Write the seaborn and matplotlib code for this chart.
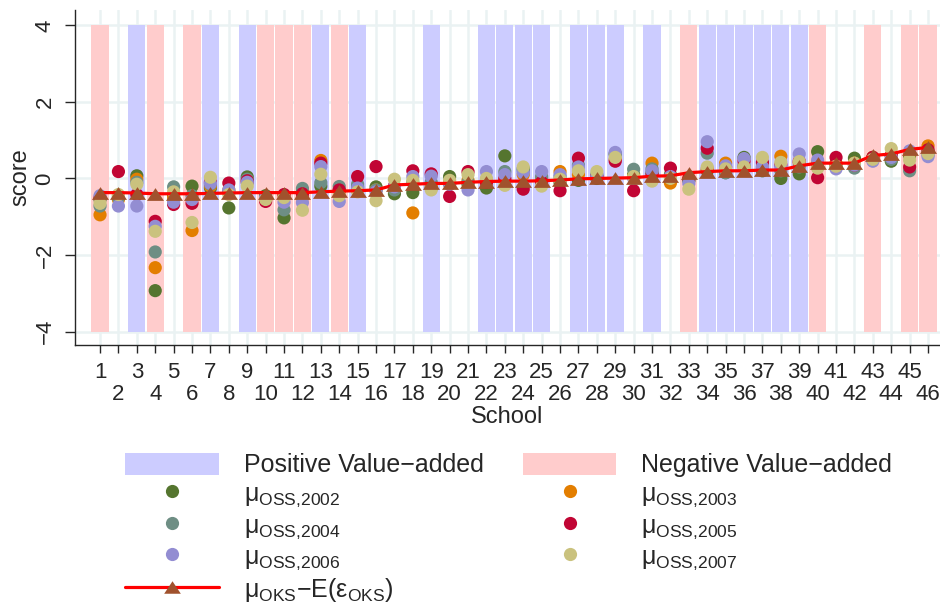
import numpy as np
import pandas as pd
import matplotlib
matplotlib.use("Agg")
import matplotlib.pyplot as plt
import seaborn as sns
from matplotlib.patches import Patch
from matplotlib.lines import Line2D

# ---------------- data ----------------
schools = list(range(1, 47))
va_band = ['neg', '', 'pos', 'neg', '', 'neg', 'pos', '', 'pos', 'neg',
           'neg', 'neg', 'pos', 'neg', 'pos', '', '', '', 'pos', '',
           '', 'pos', 'pos', 'pos', 'pos', '', 'pos', 'pos', 'pos', '',
           'pos', '', 'neg', 'pos', 'pos', 'pos', 'pos', 'pos', 'pos', 'neg',
           '', '', 'neg', '', 'neg', 'neg']
band_low, band_high = -4, 4

y2002 = [-0.55, -0.45, 0.07, -2.93, -0.45, -0.2, -0.25, -0.77, 0.04, -0.45,
         -1.03, -0.35, -0.2, -0.3, -0.22, -0.22, -0.4, -0.37, -0.25, 0.05,
         -0.15, -0.25, 0.59, 0.25, -0.05, -0.1, -0.05, 0.0, 0.65, 0.1,
         0.15, 0.1, -0.05, 0.2, 0.15, 0.55, 0.2, 0.0, 0.12, 0.7,
         0.35, 0.53, 0.55, 0.45, 0.6, 0.7]
y2003 = [-0.95, -0.55, -0.02, -2.33, -0.5, -1.36, -0.2, -0.3, -0.1, -0.55,
         -0.45, -0.5, 0.47, -0.35, -0.3, -0.3, -0.28, -0.9, -0.2, -0.1,
         -0.05, -0.1, -0.05, 0.1, 0.0, 0.18, 0.1, 0.05, 0.5, 0.05,
         0.4, -0.12, 0.0, 0.25, 0.4, 0.3, 0.3, 0.58, 0.4, 0.4,
         0.4, 0.4, 0.55, 0.6, 0.65, 0.85]
y2004 = [-0.72, -0.5, -0.1, -1.92, -0.22, -0.45, -0.15, -0.35, -0.02, -0.5,
         -0.82, -0.26, -0.11, -0.21, -0.15, -0.3, -0.3, -0.1, -0.1, -0.15,
         -0.1, -0.05, 0.18, 0.2, 0.05, 0.05, 0.35, 0.1, 0.62, 0.24,
         0.25, 0.05, -0.05, 0.66, 0.15, 0.35, 0.25, 0.2, 0.3, 0.3,
         0.3, 0.27, 0.5, 0.5, 0.2, 0.62]
y2005 = [-0.5, 0.18, -0.42, -1.12, -0.68, -0.65, -0.1, -0.12, -0.06, -0.6,
         -0.42, -0.4, 0.4, -0.3, 0.05, 0.31, -0.2, 0.2, 0.12, -0.47,
         0.18, -0.1, 0.0, -0.28, -0.1, -0.32, 0.53, 0.05, 0.45, -0.32,
         0.1, 0.27, 0.0, 0.79, 0.3, 0.45, 0.42, 0.35, 0.45, 0.02,
         0.55, 0.35, 0.55, 0.6, 0.3, 0.75]
y2006 = [-0.45, -0.72, -0.72, -1.25, -0.62, -0.55, -0.13, -0.3, -0.1, -0.5,
         -0.62, -0.63, 0.31, -0.6, -0.25, -0.35, -0.22, 0.05, 0.06, -0.15,
         -0.3, 0.18, 0.1, 0.15, 0.18, 0.1, 0.3, 0.05, 0.68, 0.0,
         0.2, 0.05, -0.13, 0.96, 0.33, 0.52, 0.3, 0.3, 0.64, 0.48,
         0.25, 0.35, 0.45, 0.55, 0.72, 0.57]
y2007 = [-0.65, -0.42, -0.15, -1.38, -0.35, -1.15, 0.03, -0.42, -0.2, -0.55,
         -0.5, -0.83, 0.11, -0.45, -0.35, -0.58, -0.02, -0.05, -0.3, -0.05,
         0.1, 0.0, -0.18, 0.3, -0.2, -0.02, 0.2, 0.18, 0.55, 0.05,
         -0.07, 0.0, -0.28, 0.3, 0.25, 0.3, 0.55, 0.42, 0.44, 0.27,
         0.32, 0.4, 0.5, 0.78, 0.48, 0.65]
oks_line = [-0.37, -0.37, -0.38, -0.40, -0.40, -0.40, -0.39, -0.38, -0.37, -0.37,
            -0.37, -0.37, -0.35, -0.33, -0.32, -0.30, -0.17, -0.15, -0.13, -0.13,
            -0.10, -0.08, -0.07, -0.07, -0.06, -0.04, -0.01, 0.0, 0.01, 0.02,
            0.06, 0.07, 0.15, 0.18, 0.2, 0.2, 0.22, 0.22, 0.33, 0.40,
            0.40, 0.40, 0.6, 0.64, 0.76, 0.81]
years = ['2002', '2003', '2004', '2005', '2006', '2007']
yticks = [-4, -2, 0, 2, 4]

# ---------------- style ----------------
sns.set_style("ticks")
plt.rcParams['font.family'] = ['Liberation Sans', 'DejaVu Sans']
plt.rcParams['mathtext.default'] = 'regular'

col_year = {'2002': '#55752f', '2003': '#e37e00', '2004': '#6e8e84',
            '2005': '#c10534', '2006': '#938dd2', '2007': '#cac27e'}
blue_band = '#ccccff'
pink_band = '#ffcccc'
sienna = '#a0522d'
grid_col = '#eaf2f3'

fig = plt.figure(figsize=(9.4, 6.05), dpi=100)
ax = fig.add_axes([75 / 940, 1 - 345 / 605, 865 / 940, 335 / 605])

# bands
pos_x = [s for s, b in zip(schools, va_band) if b == 'pos']
neg_x = [s for s, b in zip(schools, va_band) if b == 'neg']
ax.bar(pos_x, band_high - band_low, bottom=band_low, width=0.93,
       color=blue_band, linewidth=0, zorder=1)
ax.bar(neg_x, band_high - band_low, bottom=band_low, width=0.93,
       color=pink_band, linewidth=0, zorder=1)

# points
df = pd.DataFrame({
    'school': schools * 6,
    'score': y2002 + y2003 + y2004 + y2005 + y2006 + y2007,
    'year': sum([[y] * len(schools) for y in years], []),
})
sns.scatterplot(data=df, x='school', y='score', hue='year', palette=col_year,
                s=90, linewidth=0, legend=False, ax=ax, zorder=3)

tri = [(0, 0.75), (-1, -0.75), (1, -0.75)]
sns.lineplot(x=schools, y=oks_line, color='red', linewidth=2.3, ax=ax, zorder=4)
sns.scatterplot(x=schools, y=oks_line, marker=tri, s=150, color=sienna,
                linewidth=0, ax=ax, zorder=5)

# axes
ax.set_xlim(-0.36, 46.65)
ax.set_ylim(-4.35, 4.4)
ax.set_yticks(yticks)
ax.set_yticklabels([f'{v}'.replace('-', '\u2212') for v in yticks], rotation=90, va='center')
odd = [s for s in schools if s % 2 == 1]
even = [s for s in schools if s % 2 == 0]
ax.set_xticks(odd)
ax.set_xticklabels([str(s) for s in odd])
ax.set_xticks(even, minor=True)
ax.set_xticklabels([str(s) for s in even], minor=True)
ax.tick_params(axis='x', which='major', length=6, width=1, pad=6, labelsize=16)
ax.tick_params(axis='x', which='minor', length=6, width=1, pad=22, labelsize=16)
ax.tick_params(axis='y', length=7, width=1, pad=7, labelsize=16)

ax.set_axisbelow(True)
ax.grid(axis='y', color=grid_col, linewidth=1.8)
ax.grid(axis='x', which='both', color=grid_col, linewidth=1.8)
for side in ['top', 'right']:
    ax.spines[side].set_visible(False)
ax.spines['left'].set_linewidth(1)
ax.spines['bottom'].set_linewidth(1)

ax.set_xlabel('School', fontsize=17, labelpad=1)
ax.set_ylabel('score', fontsize=17, labelpad=2)

# legend
h_pos = Patch(facecolor=blue_band, edgecolor='none')
h_neg = Patch(facecolor=pink_band, edgecolor='none')
hd = {y: Line2D([], [], linestyle='none', marker='o', markersize=9.5,
                markerfacecolor=col_year[y], markeredgewidth=0) for y in years}
h_line = Line2D([], [], color='red', linewidth=2.3, marker=tri, markersize=12,
                markerfacecolor=sienna, markeredgewidth=0)
lab = {y: r'$\mathregular{μ_{OSS{,}' + y + '}}$' for y in years}
handles = [h_pos, hd['2002'], hd['2004'], hd['2006'], h_line,
           h_neg, hd['2003'], hd['2005'], hd['2007']]
labels = ['Positive Value\u2212added', lab['2002'], lab['2004'], lab['2006'],
          r'$\mathregular{μ_{OKS}{-}E(ε_{OKS})}$',
          'Negative Value\u2212added', lab['2003'], lab['2005'], lab['2007']]
fig.legend(handles, labels, ncol=2, loc='upper left',
           bbox_to_anchor=(125 / 940, 1 - 453 / 605), frameon=False,
           fontsize=18, handlelength=3.75, handleheight=0.95,
           handletextpad=1.0, columnspacing=1.56, labelspacing=0.16,
           borderpad=0, borderaxespad=0)

fig.savefig('out.png', dpi=100)
